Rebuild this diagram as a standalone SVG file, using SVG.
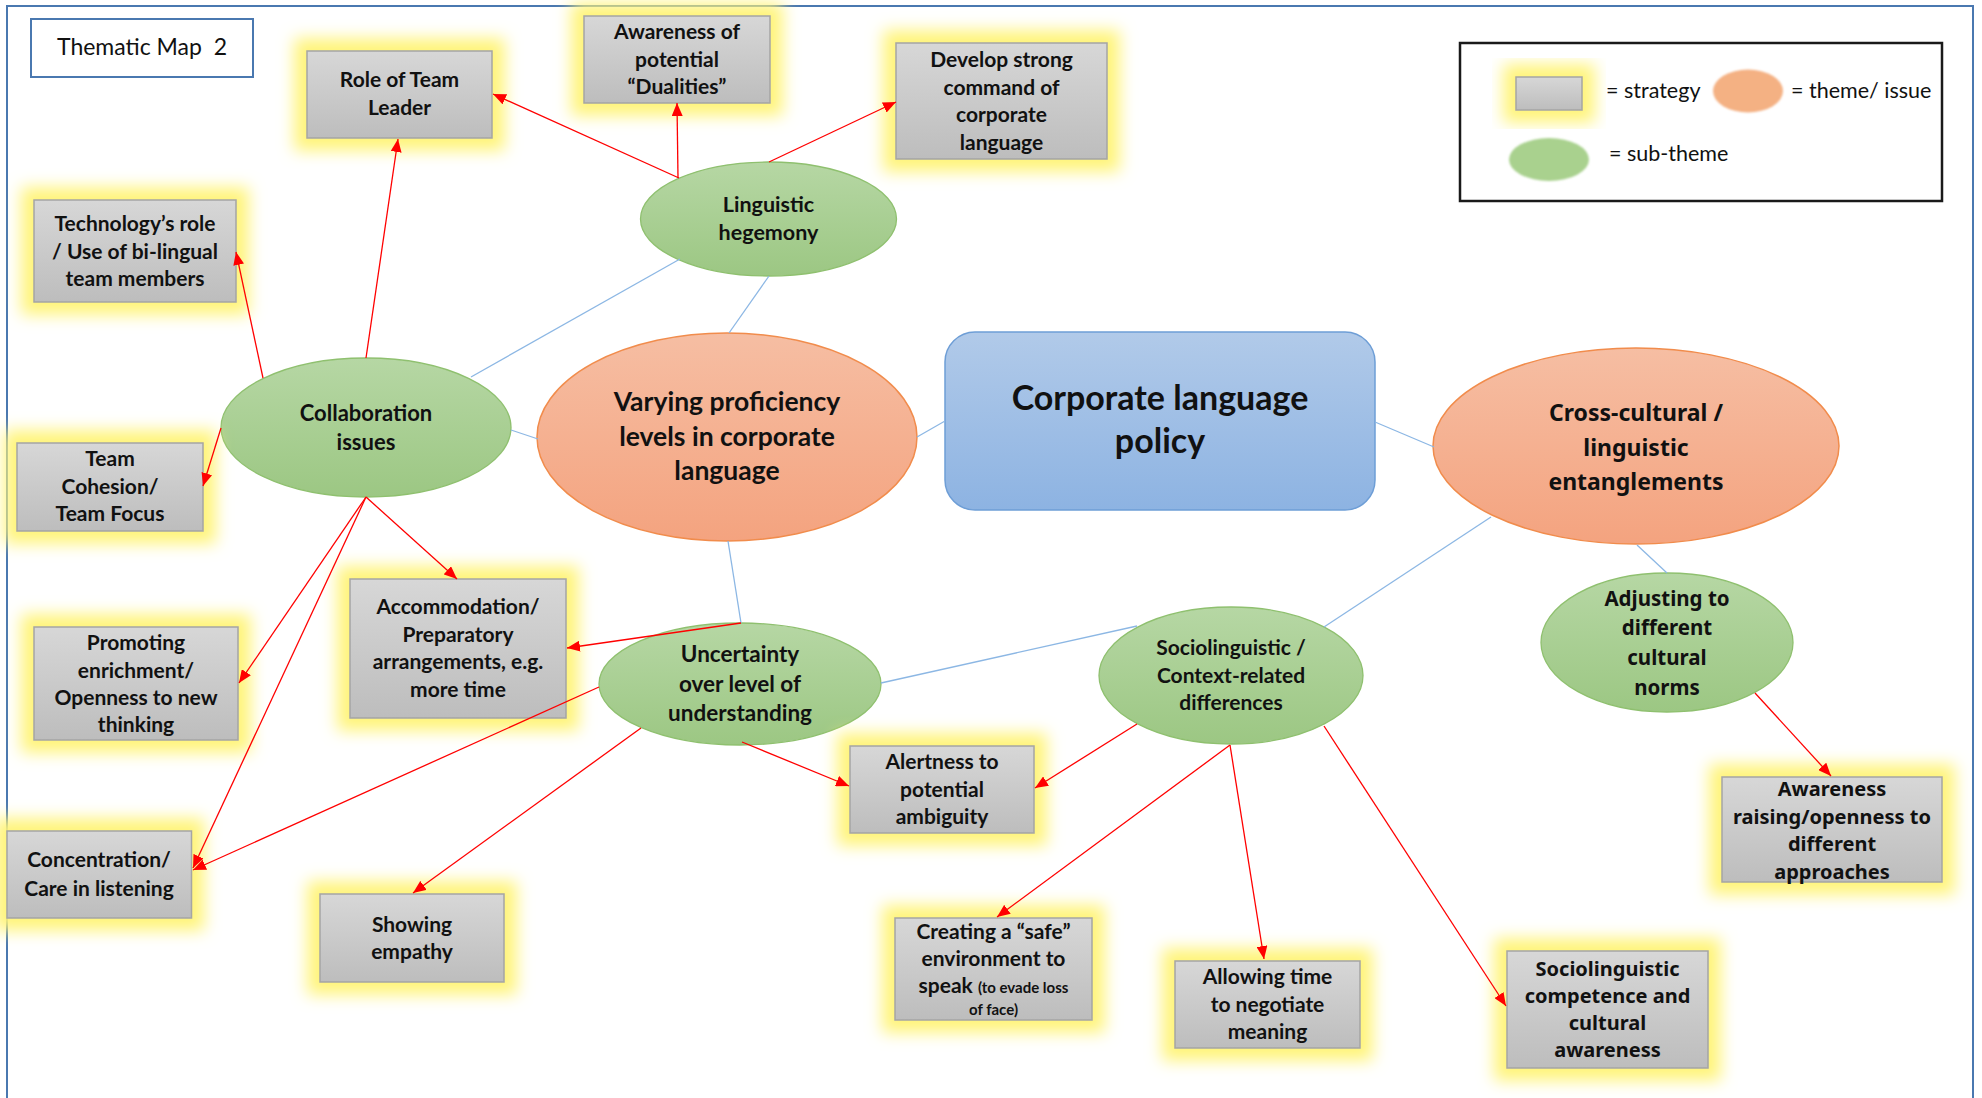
<svg xmlns="http://www.w3.org/2000/svg" width="1982" height="1098" viewBox="0 0 1982 1098">
  <defs>
    <linearGradient id="gGray" x1="0" y1="0" x2="0" y2="1">
      <stop offset="0" stop-color="#d7d7d7"/>
      <stop offset="1" stop-color="#bdbdbd"/>
    </linearGradient>
    <linearGradient id="gGreen" x1="0" y1="0" x2="0" y2="1">
      <stop offset="0" stop-color="#b6d7a4"/>
      <stop offset="1" stop-color="#9cc783"/>
    </linearGradient>
    <linearGradient id="gOrange" x1="0" y1="0" x2="0" y2="1">
      <stop offset="0" stop-color="#f6bea3"/>
      <stop offset="1" stop-color="#f4a37f"/>
    </linearGradient>
    <linearGradient id="gBlue" x1="0" y1="0" x2="0" y2="1">
      <stop offset="0" stop-color="#b1cae9"/>
      <stop offset="1" stop-color="#8db3e2"/>
    </linearGradient>
    <filter id="glow" x="-35%" y="-55%" width="170%" height="210%" color-interpolation-filters="sRGB">
      <feMorphology in="SourceAlpha" operator="dilate" radius="12" result="d"/>
      <feGaussianBlur in="d" stdDeviation="8" result="b"/>
      <feFlood flood-color="#fff47a"/>
      <feComposite in2="b" operator="in" result="g"/>
      <feMerge><feMergeNode in="g"/><feMergeNode in="SourceGraphic"/></feMerge>
    </filter>
    <filter id="soft" x="-20%" y="-20%" width="140%" height="140%">
      <feGaussianBlur stdDeviation="1"/>
    </filter>
    <marker id="arrow" markerUnits="userSpaceOnUse" markerWidth="13" markerHeight="11" viewBox="0 0 13 11" refX="13" refY="5.5" orient="auto">
      <path d="M0,0 L13,5.5 L0,11 z" fill="#ff0000"/>
    </marker>
  </defs>
  <style>
    .box { fill: url(#gGray); stroke: #a5a5a5; stroke-width: 1.5; filter: url(#glow); }
    .sub { fill: url(#gGreen); stroke: #8fc06f; stroke-width: 1.3; }
    .theme { fill: url(#gOrange); stroke: #f18c4c; stroke-width: 1.5; }
    .core { fill: url(#gBlue); stroke: #6e9ed6; stroke-width: 1.5; }
    .t { font-family: Lato, "Liberation Sans", sans-serif; font-weight: 700; fill: #111; text-anchor: middle; }
    .v { font-family: "Noto Sans", "DejaVu Sans", sans-serif; font-weight: 700; fill: #111; text-anchor: middle; }
    .r { font-family: Lato, "Liberation Sans", sans-serif; font-weight: 400; fill: #111; }
    .blue { stroke: #8cb7e4; stroke-width: 1.3; fill: none; }
    .red { stroke: #ff0000; stroke-width: 1.3; fill: none; marker-end: url(#arrow); }
  </style>

  <rect width="1982" height="1098" fill="#ffffff"/>
  <!-- page frame -->
  <rect x="7" y="6" width="1966" height="1110" fill="none" stroke="#4a78b0" stroke-width="2"/>

  <!-- title -->
  <g id="title">
    <rect x="31" y="19" width="222" height="58" fill="#ffffff" stroke="#4a78b0" stroke-width="2"/>
    <text class="r" x="57" y="55" font-size="23" xml:space="preserve">Thematic Map  2</text>
  </g>

  <!-- legend -->
  <g id="legend">
    <rect x="1460" y="43" width="482" height="158" fill="#ffffff" stroke="#1a1a1a" stroke-width="2.5"/>
    <rect x="1516" y="77" width="66" height="33" fill="url(#gGray)" stroke="#a5a5a5" stroke-width="1.5" filter="url(#glow)"/>
    <text class="r" x="1606" y="98" font-size="21.5">= strategy</text>
    <ellipse cx="1748" cy="91" rx="35" ry="21.5" fill="#f4b183" filter="url(#soft)"/>
    <text class="r" x="1791" y="98" font-size="21.5">= theme/ issue</text>
    <ellipse cx="1549" cy="159.5" rx="40" ry="21.5" fill="#a9d18e" filter="url(#soft)"/>
    <text class="r" x="1609" y="161" font-size="21.5">= sub-theme</text>
  </g>

  <!-- core policy -->
  <g id="corporate-language-policy">
    <rect class="core" x="945" y="332" width="430" height="178" rx="30"/>
    <text class="t" font-size="34"><tspan x="1160" y="410">Corporate language</tspan><tspan x="1160" y="453">policy</tspan></text>
  </g>

  <!-- themes -->
  <g id="varying-proficiency">
    <ellipse class="theme" cx="727" cy="437" rx="190" ry="104"/>
    <text class="t" font-size="26.5"><tspan x="727" y="411">Varying proficiency</tspan><tspan x="727" y="446">levels in corporate</tspan><tspan x="727" y="480">language</tspan></text>
  </g>
  <g id="cross-cultural">
    <ellipse class="theme" cx="1636" cy="446" rx="203" ry="98"/>
    <text class="v" font-size="23"><tspan x="1636" y="421">Cross-cultural /</tspan><tspan x="1636" y="456">linguistic</tspan><tspan x="1636" y="490">entanglements</tspan></text>
  </g>

  <!-- sub-themes -->
  <g id="linguistic-hegemony">
    <ellipse class="sub" cx="768.5" cy="219" rx="128" ry="57"/>
    <text class="t" font-size="21.5"><tspan x="768.5" y="212">Linguistic</tspan><tspan x="768.5" y="239.5">hegemony</tspan></text>
  </g>
  <g id="collaboration-issues">
    <ellipse class="sub" cx="366" cy="427.5" rx="145" ry="69.5"/>
    <text class="t" font-size="22"><tspan x="366" y="421">Collaboration</tspan><tspan x="366" y="450">issues</tspan></text>
  </g>
  <g id="uncertainty">
    <ellipse class="sub" cx="740" cy="684" rx="141" ry="61"/>
    <text class="t" font-size="22.5"><tspan x="740" y="662">Uncertainty</tspan><tspan x="740" y="691.5">over level of</tspan><tspan x="740" y="721">understanding</tspan></text>
  </g>
  <g id="sociolinguistic-differences">
    <ellipse class="sub" cx="1231" cy="675.5" rx="132" ry="68.5"/>
    <text class="t" font-size="21"><tspan x="1231" y="655">Sociolinguistic /</tspan><tspan x="1231" y="682.5">Context-related</tspan><tspan x="1231" y="710">differences</tspan></text>
  </g>
  <g id="adjusting-norms">
    <ellipse class="sub" cx="1667" cy="642.5" rx="126" ry="69.5"/>
    <text class="v" font-size="20.5"><tspan x="1667" y="606">Adjusting to</tspan><tspan x="1667" y="635">different</tspan><tspan x="1667" y="665">cultural</tspan><tspan x="1667" y="695">norms</tspan></text>
  </g>

  <!-- strategies -->
  <g id="role-of-team-leader">
    <rect class="box" x="307" y="51" width="185" height="87"/>
    <text class="t" font-size="21"><tspan x="399.5" y="87">Role of Team</tspan><tspan x="399.5" y="115">Leader</tspan></text>
  </g>
  <g id="dualities">
    <rect class="box" x="584" y="16" width="186" height="87"/>
    <text class="t" font-size="21"><tspan x="677" y="39">Awareness of</tspan><tspan x="677" y="66.5">potential</tspan><tspan x="677" y="94">“Dualities”</tspan></text>
  </g>
  <g id="develop-command">
    <rect class="box" x="896" y="43" width="211" height="116"/>
    <text class="t" font-size="21"><tspan x="1001.5" y="67">Develop strong</tspan><tspan x="1001.5" y="94.5">command of</tspan><tspan x="1001.5" y="122">corporate</tspan><tspan x="1001.5" y="149.5">language</tspan></text>
  </g>
  <g id="technology-role">
    <rect class="box" x="34" y="200" width="202" height="102"/>
    <text class="t" font-size="21"><tspan x="135" y="231">Technology’s role</tspan><tspan x="135" y="259">/ Use of bi-lingual</tspan><tspan x="135" y="286">team members</tspan></text>
  </g>
  <g id="team-cohesion">
    <rect class="box" x="17" y="443" width="186" height="88"/>
    <text class="t" font-size="21"><tspan x="110" y="466">Team</tspan><tspan x="110" y="494">Cohesion/</tspan><tspan x="110" y="521">Team Focus</tspan></text>
  </g>
  <g id="promoting-enrichment">
    <rect class="box" x="34" y="627" width="204" height="113"/>
    <text class="t" font-size="21"><tspan x="136" y="650">Promoting</tspan><tspan x="136" y="678">enrichment/</tspan><tspan x="136" y="705">Openness to new</tspan><tspan x="136" y="732">thinking</tspan></text>
  </g>
  <g id="accommodation">
    <rect class="box" x="350" y="579" width="216" height="139"/>
    <text class="t" font-size="21"><tspan x="458" y="614">Accommodation/</tspan><tspan x="458" y="641.5">Preparatory</tspan><tspan x="458" y="669">arrangements, e.g.</tspan><tspan x="458" y="696.5">more time</tspan></text>
  </g>
  <g id="concentration">
    <rect class="box" x="7" y="831" width="184.5" height="87"/>
    <text class="t" font-size="21"><tspan x="99" y="867">Concentration/</tspan><tspan x="99" y="896">Care in listening</tspan></text>
  </g>
  <g id="showing-empathy">
    <rect class="box" x="320" y="894" width="184" height="88"/>
    <text class="t" font-size="21"><tspan x="412" y="932">Showing</tspan><tspan x="412" y="959">empathy</tspan></text>
  </g>
  <g id="alertness">
    <rect class="box" x="850" y="746" width="184" height="87"/>
    <text class="t" font-size="21"><tspan x="942" y="769">Alertness to</tspan><tspan x="942" y="797">potential</tspan><tspan x="942" y="824">ambiguity</tspan></text>
  </g>
  <g id="safe-environment">
    <rect class="box" x="895" y="918" width="197" height="102"/>
    <text class="t" font-size="21"><tspan x="993.5" y="939">Creating a “safe”</tspan><tspan x="993.5" y="966">environment to</tspan><tspan x="993.5" y="993">speak <tspan font-size="15">(to evade loss</tspan></tspan><tspan x="993.5" y="1015" font-size="15">of face)</tspan></text>
  </g>
  <g id="negotiate-meaning">
    <rect class="box" x="1175" y="961" width="185" height="87"/>
    <text class="t" font-size="21"><tspan x="1267.5" y="984">Allowing time</tspan><tspan x="1267.5" y="1011.5">to negotiate</tspan><tspan x="1267.5" y="1039">meaning</tspan></text>
  </g>
  <g id="sociolinguistic-competence">
    <rect class="box" x="1507" y="951" width="201" height="117"/>
    <text class="v" font-size="20"><tspan x="1607.5" y="975.5">Sociolinguistic</tspan><tspan x="1607.5" y="1003">competence and</tspan><tspan x="1607.5" y="1030">cultural</tspan><tspan x="1607.5" y="1057">awareness</tspan></text>
  </g>
  <g id="awareness-raising">
    <rect class="box" x="1722" y="777" width="220" height="105"/>
    <text class="v" font-size="20"><tspan x="1832" y="796">Awareness</tspan><tspan x="1832" y="823.5">raising/openness to</tspan><tspan x="1832" y="851">different</tspan><tspan x="1832" y="878.5">approaches</tspan></text>
  </g>

  <!-- connectors -->
  <g id="connectors">
    <line class="blue" x1="917" y1="437" x2="945" y2="421"/>
    <line class="blue" x1="1375" y1="422" x2="1434" y2="447"/>
    <line class="blue" x1="729" y1="333" x2="769" y2="276"/>
    <line class="blue" x1="471" y1="377" x2="680" y2="259"/>
    <line class="blue" x1="511" y1="430" x2="538" y2="439"/>
    <line class="blue" x1="728" y1="541" x2="741" y2="623"/>
    <line class="blue" x1="881" y1="683" x2="1137" y2="626" stroke-width="1.8"/>
    <line class="blue" x1="1324" y1="627" x2="1491" y2="517"/>
    <line class="blue" x1="1637" y1="545" x2="1667" y2="573"/>

    <line class="red" x1="679" y1="178" x2="493" y2="94"/>
    <line class="red" x1="678" y1="178" x2="677" y2="103"/>
    <line class="red" x1="769" y1="162" x2="896" y2="102"/>

    <line class="red" x1="366" y1="358" x2="398" y2="139"/>
    <line class="red" x1="263" y1="378" x2="236" y2="252"/>
    <line class="red" x1="221" y1="428" x2="203" y2="486"/>
    <line class="red" x1="366" y1="497" x2="457" y2="579"/>
    <line class="red" x1="366" y1="497" x2="239" y2="683"/>
    <line class="red" x1="366" y1="497" x2="193" y2="868"/>

    <line class="red" x1="741" y1="623" x2="567" y2="648"/>
    <line class="red" x1="599" y1="687" x2="193" y2="870"/>
    <line class="red" x1="641" y1="728" x2="413" y2="893"/>
    <line class="red" x1="742" y1="742" x2="849" y2="786"/>

    <line class="red" x1="1137" y1="724" x2="1035" y2="788"/>
    <line class="red" x1="1230" y1="745" x2="997" y2="917"/>
    <line class="red" x1="1230" y1="745" x2="1264" y2="959"/>
    <line class="red" x1="1324" y1="726" x2="1506" y2="1006"/>

    <line class="red" x1="1755" y1="693" x2="1831" y2="776"/>
  </g>
</svg>
